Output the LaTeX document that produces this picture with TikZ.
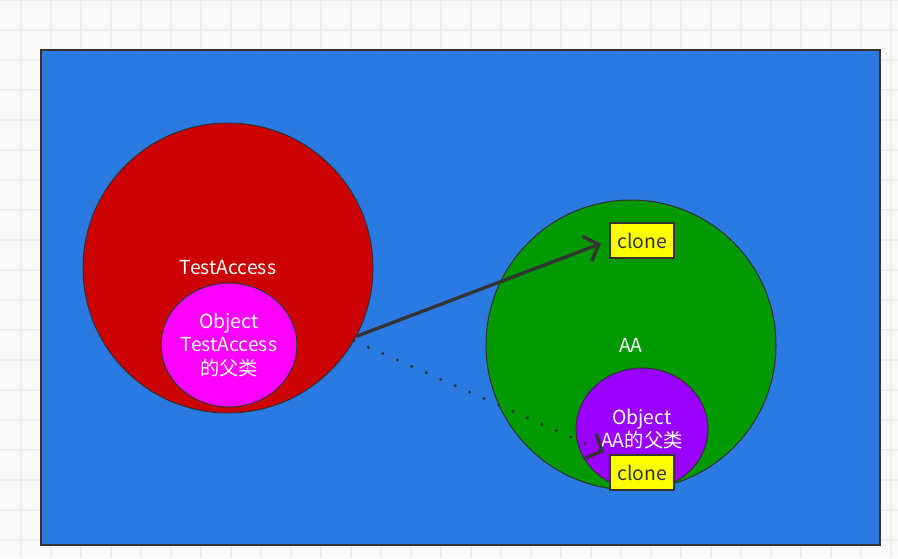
\documentclass[tikz,border=0pt]{standalone}
\usepackage{fontspec}
\setmainfont{Noto Sans CJK SC}
\usetikzlibrary{arrows.meta, shapes.geometric}

\definecolor{pagebg}{HTML}{F9F9F9}
\definecolor{gridgray}{HTML}{EEEEEE}
\definecolor{linegray}{HTML}{333333}
\definecolor{boardblue}{HTML}{2A7AE2}
\definecolor{ballred}{HTML}{CC0000}
\definecolor{ballpink}{HTML}{FF00FF}
\definecolor{ballgreen}{HTML}{009900}
\definecolor{ballpurple}{HTML}{9900FF}
\definecolor{boxyellow}{HTML}{FFFF00}

\begin{document}
\begin{tikzpicture}[x=0.02cm, y=-0.02cm,
		myline/.style={draw=linegray, line width=0.6pt},
		ball/.style={myline, ellipse, inner sep=0pt, text=white, align=center, font=\fontsize{11}{13.3}\selectfont},
		box/.style={draw=linegray, line width=1.1pt, fill=boxyellow, minimum width=1.28cm, minimum height=0.7cm, inner sep=0pt, font=\fontsize{11}{13}\selectfont, text=linegray},
		link/.style={draw=linegray, line width=1.9pt, -{Straight Barb[length=7pt, width=15pt]}}]
		
		\useasboundingbox [fill=pagebg] (0,0) rectangle (898,558);
		\foreach \i in {0,...,29} \draw [gridgray, line width=0.8pt] (21+30*\i,0) -- (21+30*\i,558);
		\foreach \j in {0,...,18} \draw [gridgray, line width=0.8pt] (0,30*\j) -- (898,30*\j);
		
		\draw [myline, line width=1pt, fill=boardblue] (41,50) rectangle (880,545);
		
		\node[ball, fill=ballred, minimum width=5.8cm, minimum height=5.8cm] at (228,268) (testaccess) {TestAccess};
		\node[ball, fill=ballpink, minimum width=2.64cm, minimum height=2.48cm] at (229,345) (objA) {Object\\TestAccess\\的父类};
		
		\node[ball, fill=ballgreen, minimum width=5.8cm, minimum height=5.8cm] at (631,345) (aa) {AA};
		\node[ball, fill=ballpurple, minimum width=2.64cm, minimum height=2.44cm] at (642,429) (objB) {Object\\AA的父类};
		
		\node[box] at (642,240.5) (cloneA) {clone};
		\node[box] at (642,472.5) (cloneB) {clone};
		
		\draw[link, shorten >=5pt]  (testaccess.-28) -- (cloneA.west);
		\draw[link, line cap=round, dash pattern=on 0pt off 9pt, shorten >=3pt]  (testaccess.-30) -- (cloneB.north west);
	\end{tikzpicture}
\end{document}
